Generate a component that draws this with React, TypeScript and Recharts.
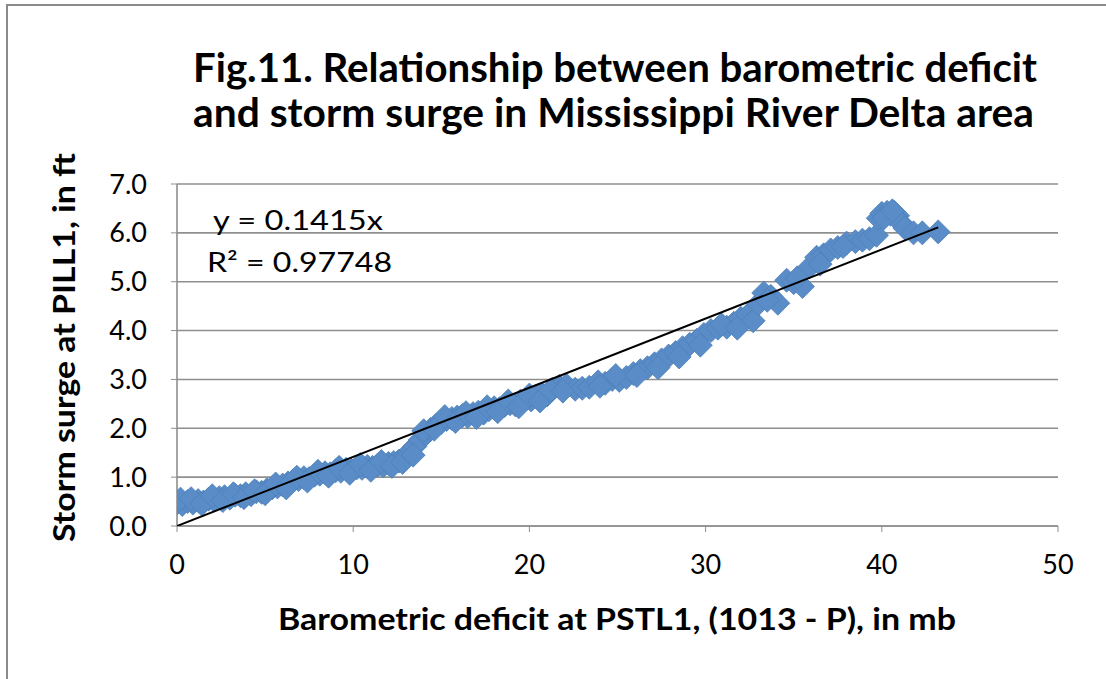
import React from 'react';
import { ScatterChart, Scatter, XAxis, YAxis, CartesianGrid } from 'recharts';

// barometric deficit (mb)
const deficitMb = [
  0.0, 0.3, 0.6, 0.9, 1.2, 1.5, 1.8, 2.1, 2.4, 2.7, 3.0, 3.3, 3.6, 3.9, 4.2, 4.5, 4.8,
  5.1, 5.4, 5.7, 6.0, 6.3, 6.6, 6.9, 7.2, 7.5, 7.8, 8.1, 8.4, 8.7, 9.0, 9.3, 9.6, 9.9,
  10.2, 10.5, 10.8, 11.1, 11.4, 11.7, 12.0, 12.3, 12.6, 12.9, 13.2, 13.5, 13.8, 14.1,
  14.4, 14.7, 15.0, 15.3, 15.6, 15.9, 16.2, 16.5, 16.8, 17.1, 17.4, 17.7, 18.0, 18.3,
  18.6, 18.9, 19.2, 19.5, 19.8, 20.1, 20.4, 20.7, 21.0, 21.3, 21.7, 22.1, 22.6, 23.0,
  23.4, 23.9, 24.3, 24.7, 25.1, 25.5, 25.9, 26.3, 26.7, 27.1, 27.5, 27.9, 28.3, 28.7,
  29.1, 29.5, 29.9, 30.3, 30.7, 31.2, 31.6, 32.0, 32.4, 32.7, 33.0, 33.3, 33.7, 34.1,
  34.6, 35.0, 35.5, 35.9, 36.3, 36.7, 37.1, 37.5, 38.0, 38.5, 38.9, 39.3, 39.7, 39.8,
  40.0, 40.3, 40.5, 40.7, 40.9, 41.1, 41.3, 41.8, 42.3, 43.2,
  // second pass of readings, scattered around the same band
  0.2, 0.8, 1.4, 2.0, 2.6, 3.2, 3.8, 4.4, 5.0, 5.6, 6.2, 6.8, 7.4, 8.0, 8.6, 9.2, 9.8,
  10.4, 11.0, 11.6, 12.2, 12.8, 13.4, 14.0, 14.6, 15.2, 15.8, 16.4, 17.0, 17.6, 18.2,
  18.8, 19.4, 20.0, 20.6, 21.2, 21.9, 24.0, 24.9, 26.1, 27.3, 28.5, 29.7, 30.9, 31.8,
  33.5, 35.2, 36.5, 37.8, 40.1, 40.6,
];

// storm surge (ft), same order
const surgeFt = [
  0.47, 0.44, 0.50, 0.47, 0.52, 0.49, 0.55, 0.53, 0.58, 0.60, 0.57, 0.63, 0.62, 0.66, 0.64, 0.70, 0.69,
  0.74, 0.78, 0.80, 0.84, 0.88, 0.93, 0.95, 0.99, 0.97, 1.04, 1.06, 1.09, 1.07, 1.13, 1.12, 1.16, 1.14,
  1.19, 1.18, 1.22, 1.20, 1.25, 1.23, 1.28, 1.30, 1.33, 1.40, 1.52, 1.63, 1.76, 1.88,
  1.98, 2.06, 2.12, 2.18, 2.20, 2.23, 2.26, 2.24, 2.30, 2.33, 2.31, 2.38, 2.42, 2.40,
  2.47, 2.50, 2.48, 2.56, 2.60, 2.58, 2.66, 2.70, 2.68, 2.80, 2.86, 2.88, 2.80, 2.82,
  2.84, 2.95, 2.92, 3.00, 2.98, 3.04, 3.12, 3.18, 3.24, 3.32, 3.40, 3.48, 3.55, 3.65,
  3.72, 3.80, 3.92, 4.00, 4.05, 4.07, 4.15, 4.25, 4.32, 4.20, 4.55, 4.77, 4.70, 4.56,
  5.03, 4.98, 4.90, 5.30, 5.50, 5.55, 5.65, 5.70, 5.79, 5.82, 5.85, 5.88, 5.95, 6.30,
  6.40, 6.42, 6.38, 6.42, 6.35, 6.20, 6.10, 6.00, 6.00, 6.02,
  0.55, 0.56, 0.45, 0.62, 0.52, 0.66, 0.58, 0.72, 0.66, 0.86, 0.78, 1.00, 0.92, 1.12, 1.02, 1.20, 1.08,
  1.26, 1.14, 1.32, 1.22, 1.30, 1.45, 1.95, 1.98, 2.24, 2.14, 2.32, 2.22, 2.44, 2.34,
  2.56, 2.44, 2.68, 2.56, 2.78, 2.76, 2.86, 3.08, 3.08, 3.24, 3.46, 3.70, 4.12, 4.05,
  4.62, 5.08, 5.36, 5.72, 6.30, 6.45,
];

const xTicks = [0, 10, 20, 30, 40, 50];
const yTicks = [0, 1, 2, 3, 4, 5, 6, 7];
const trendSlope = 0.1415;
const rSquared = '0.97748';

const points = deficitMb.map((x, i) => ({ x, y: surgeFt[i] }));
const maxX = Math.max(...deficitMb);
const trendData = [
  { x: 0, y: 0 },
  { x: maxX, y: maxX * trendSlope },
];

const Diamond = (props: any) => {
  const { cx, cy } = props;
  const r = 12;
  return (
    <path
      d={`M${cx},${cy - r}L${cx + r},${cy}L${cx},${cy + r}L${cx - r},${cy}Z`}
      fill="#5A8DC8"
      stroke="#4E80BA"
      strokeWidth={0.8}
    />
  );
};

const tickStyle = { fontFamily: 'Lato', fontSize: 27, fill: '#000' };

export default function App() {
  return (
    <div
      style={{
        position: 'absolute',
        left: 0,
        top: 0,
        width: 1106,
        height: 679,
        overflow: 'hidden',
        background: '#fff',
      }}
    >
      {/* chart frame, only left/top edges are in view */}
      <div
        style={{
          position: 'absolute',
          left: 6,
          top: 4,
          width: 1200,
          height: 800,
          border: '2px solid #8a8a8a',
        }}
      />
      <div style={{ position: 'absolute', left: 0, top: 0 }}>
        <ScatterChart
          width={1106}
          height={679}
          margin={{ top: 184, right: 48, bottom: 93, left: 117 }}
        >
          <CartesianGrid vertical={false} stroke="#8f8f8f" strokeWidth={1.6} />
          <XAxis
            type="number"
            dataKey="x"
            domain={[0, 50]}
            ticks={xTicks}
            height={60}
            tickSize={6}
            tickMargin={23}
            tick={tickStyle}
            axisLine={{ stroke: '#8f8f8f', strokeWidth: 1.6 }}
            tickLine={{ stroke: '#8f8f8f' }}
            allowDataOverflow
          />
          <YAxis
            type="number"
            dataKey="y"
            domain={[0, 7]}
            ticks={yTicks}
            width={60}
            tickSize={6}
            tickMargin={24}
            tick={tickStyle}
            tickFormatter={(v: number) => v.toFixed(1)}
            axisLine={{ stroke: '#8f8f8f', strokeWidth: 1.6 }}
            tickLine={{ stroke: '#8f8f8f' }}
            allowDataOverflow
          />
          <Scatter data={points} shape={Diamond} isAnimationActive={false} />
          <Scatter
            data={trendData}
            line={{ stroke: '#000', strokeWidth: 2 }}
            shape={() => <g />}
            isAnimationActive={false}
          />
        </ScatterChart>
      </div>
      <svg
        width={1106}
        height={679}
        style={{ position: 'absolute', left: 0, top: 0, pointerEvents: 'none' }}
      >
        <g fontFamily="Lato" fontWeight="bold" fill="#000">
          <text x={193} y={82} fontSize={40} textLength={844} lengthAdjust="spacingAndGlyphs">
            Fig.11. Relationship between barometric deficit
          </text>
          <text x={193} y={127} fontSize={40} textLength={841} lengthAdjust="spacingAndGlyphs">
            and storm  surge in Mississippi River Delta area
          </text>
          <text x={278} y={630} fontSize={30} textLength={678} lengthAdjust="spacingAndGlyphs">
            Barometric deficit at PSTL1, (1013 - P), in mb
          </text>
          <text
            x={0}
            y={0}
            fontSize={30}
            textLength={389}
            lengthAdjust="spacingAndGlyphs"
            transform="translate(75,542) rotate(-90)"
          >
            Storm surge  at PILL1, in ft
          </text>
        </g>
        <g fontFamily="Lato" fill="#000" fontSize={26}>
          <text x={213} y={230} textLength={170} lengthAdjust="spacingAndGlyphs">
            {`y = ${trendSlope}x`}
          </text>
          <text x={207} y={272} textLength={185} lengthAdjust="spacingAndGlyphs">
            {`R² = ${rSquared}`}
          </text>
        </g>
      </svg>
    </div>
  );
}
